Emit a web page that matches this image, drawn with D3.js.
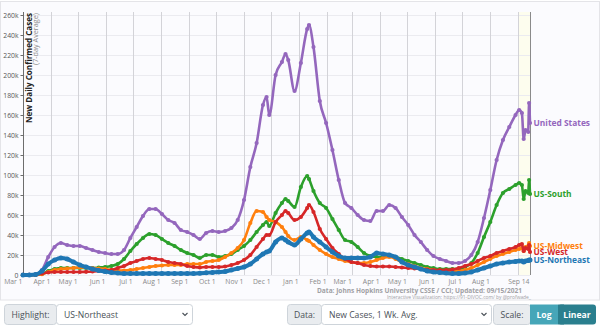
<!DOCTYPE html>
<html><head><meta charset="utf-8">
<script src="https://cdn.jsdelivr.net/npm/d3@7"></script>
<style>
html,body{margin:0;padding:0;background:#fff;}
svg{display:block;font-family:"Open Sans",sans-serif;}
</style></head><body>
<svg id="chart" width="600" height="327"></svg>
<script>
// ---- DATA (new daily cases, 7-day average, in thousands) ----
const dates = ["2020-03-01","2020-03-08","2020-03-15","2020-03-22","2020-03-29","2020-04-05","2020-04-12","2020-04-19","2020-04-26","2020-05-03",
"2020-05-10","2020-05-17","2020-05-24","2020-05-31","2020-06-07","2020-06-14","2020-06-21","2020-06-28","2020-07-05","2020-07-12",
"2020-07-19","2020-07-26","2020-08-02","2020-08-09","2020-08-16","2020-08-23","2020-08-30","2020-09-06","2020-09-13","2020-09-20",
"2020-09-27","2020-10-04","2020-10-11","2020-10-18","2020-10-25","2020-11-01","2020-11-08","2020-11-15","2020-11-22","2020-11-26",
"2020-11-29","2020-12-06","2020-12-13","2020-12-17","2020-12-20","2020-12-27","2021-01-03","2021-01-10","2021-01-12","2021-01-17",
"2021-01-24","2021-01-31","2021-02-07","2021-02-14","2021-02-21","2021-02-28","2021-03-07","2021-03-14","2021-03-21","2021-03-28",
"2021-04-04","2021-04-11","2021-04-18","2021-04-25","2021-05-02","2021-05-09","2021-05-16","2021-05-23","2021-05-30","2021-06-06",
"2021-06-13","2021-06-20","2021-06-27","2021-07-04","2021-07-11","2021-07-18","2021-07-25","2021-08-01","2021-08-08","2021-08-15",
"2021-08-22","2021-08-29","2021-09-02","2021-09-05","2021-09-07","2021-09-09","2021-09-12","2021-09-13","2021-09-14"];

const unitedStates = [0,0.1,0.6,5,18,28,32,30,29,29,
27,25,23,22,21,21,25,37,48,59,
66,66,61,55,52,45,43,40,36,42,
44,43,44,47,55,75,108,132,170,178,
160,200,213,221,215,184,212,246,250,228,
174,152,125,95,72,67,60,55,54,64,
64,70,67,58,50,40,33,25,19,16,
14,12,12,14,20,33,57,85,115,135,
148,160,165,162,136,145,143,172,152];

const usSouth = [0,0,0.2,1,4,6,7,7,7,7,
7,7,7.5,8,9,11,16,24,31,37,
41,40,36,32,29,25,22,20,17,20,
20,18,19,21,25,29,35,43,50,53,
49,62,72,76,74,68,88,99,96,84,
72,67,56,45,35,33,28,22,19,18,
18,19,18,16,14,12,10,8,7,6,
6,6,6,8,12,22,38,53,70,82,
86,90,92,90,76,84,82,95,81];

const usMidwest = [0,0,0.1,0.8,3,5,6,6.5,7,7.5,
7.5,7,6.5,6,5,4.5,4.5,5,6,7,
8,9,9.5,10,10,10,11,11,11,13,
14,15,18,22,27,35,52,64,63,58,
55,53,48,43,39,35,38,35,34,30,
25,21,18,16,14,13,12,12,13,15,
17,18,16,13,11,9,7,6,5,4,
3.5,3.5,4,5,7,10,13,16,19,21,
23,25,26,27,24,28,29,32,29];

const usWest = [0.2,0.1,0.4,1.5,2.5,3,3,3,3,3,
3.2,3.5,4,4.5,5,7,9,12,14,16,
17,16,15,13,12,11,9,8,7.5,8,
8,8,8.5,10,12,15,20,28,36,40,
40,53,60,64,62,55,58,67,70,63,
46,36,27,21,16,13,12,10,9,8.5,
8.5,8.5,8,7.5,7,6.5,6,5.5,5,5,
5,5.5,7,9,11,14,17,19,22,24,
26,28,30,31,24,27,26,30,23];

const usNortheast = [0,0.1,0.5,4,11,15,17,16,13,10,
8,6,4.5,3.5,2.5,2,1.5,1.5,1.5,1.5,
1.5,1.5,1.5,1.5,1.5,1.5,1.5,1.5,1.8,2.2,
2.6,3,3.5,5,6.5,8,11,16,21,23,
24,33,37,35,33,30,36,42,43,38,
33,28,23,19,17,17,17,17,18,22,
21,20,18,13,10,8,6,4,3,2.5,
2,1.5,1.5,2,3,5,7,9,11,12,
13,13.5,14,14,13,14,14.5,15,15];

const seriesNames = ["United States","US-South","US-Midwest","US-West","US-Northeast"];
const seriesColors = ["#9467bd","#2ca02c","#ff7f0e","#d62728","#1f77b4"];
const highlighted = "US-Northeast";

const yTickValues = [0,20,40,60,80,100,120,140,160,180,200,220,240,260];
const yTickLabels = ["0","20k","40k","60k","80k","100k","120k","140k","160k","180k","200k","220k","240k","260k"];

const xGridDates = ["2020-03-01","2020-04-01","2020-05-01","2020-06-01","2020-07-01","2020-08-01","2020-09-01","2020-10-01","2020-11-01","2020-12-01",
"2021-01-01","2021-02-01","2021-03-01","2021-04-01","2021-05-01","2021-06-01","2021-07-01","2021-08-01","2021-09-01","2021-09-14"];
const xTickLabels = ["Mar 1","Apr 1","May 1","Jun 1","Jul 1","Aug 1","Sep 1","Oct 1","Nov 1","Dec 1",
"Jan 1","Feb 1","Mar 1","Apr 1","May 1","Jun 1","Jul 1","Aug 1","","Sep 14"];

// ---- DRAWING ----
const parse = d3.utcParse("%Y-%m-%d");
const svg = d3.select("#chart");
const L = 23, R = 530, T = 12, B = 275;

const x = d3.scaleUtc().domain([parse("2020-03-01"), parse("2021-09-14")]).range([L, R]);
const y = d3.scaleLinear().domain([0, 263]).range([B, T]);

// backgrounds
svg.append("rect").attr("x",0).attr("y",0).attr("width",600).attr("height",327).attr("fill","#ffffff");
svg.append("rect").attr("x",0.5).attr("y",1.5).attr("width",599).attr("height",298.5)
  .attr("fill","#fbfbfe").attr("stroke","#e4e4e8");
svg.append("rect").attr("x",x(parse("2021-09-01"))).attr("y",T)
  .attr("width",x(parse("2021-09-14"))-x(parse("2021-09-01"))).attr("height",B-T).attr("fill","#fdfdee");

// horizontal grid
svg.append("g").selectAll("line").data(yTickValues).join("line")
  .attr("x1",L).attr("x2",R).attr("y1",d=>y(d)+0.5).attr("y2",d=>y(d)+0.5)
  .attr("stroke","#ebebf0").attr("stroke-width",1);
// vertical grid
svg.append("g").selectAll("line").data(xGridDates).join("line")
  .attr("x1",d=>Math.round(x(parse(d)))+0.5).attr("x2",d=>Math.round(x(parse(d)))+0.5)
  .attr("y1",T).attr("y2",B)
  .attr("stroke",(d,i)=> i===xGridDates.length-1 ? "#8a8a8a" : "#d3d3d8").attr("stroke-width",1);

// y axis
const yAxis = d3.axisLeft(y).tickValues(yTickValues).tickFormat((d,i)=>yTickLabels[i]).tickSize(3).tickPadding(2);
const gy = svg.append("g").attr("transform",`translate(${L+0.5},0)`).call(yAxis);
gy.select(".domain").attr("stroke","#6d6d6d").attr("d",`M0,${T}V${B}`);
gy.selectAll(".tick line").attr("stroke","#6d6d6d");
gy.selectAll(".tick text").attr("font-size",6.8).attr("fill","#555").attr("font-family","'Open Sans',sans-serif");

// x axis labels
const xAxis = d3.axisBottom(x).tickValues(xGridDates.map(parse)).tickFormat((d,i)=>xTickLabels[i]).tickSize(0).tickPadding(4);
const gx = svg.append("g").attr("transform",`translate(0,${B})`).call(xAxis);
gx.select(".domain").remove();
gx.selectAll(".tick text").attr("text-anchor","end").attr("dx",-1)
  .attr("font-size",6.8).attr("fill","#8a8a8a").attr("font-family","'Open Sans',sans-serif");

// axis titles
svg.append("text").attr("transform",`translate(32.3,13) rotate(-90)`).attr("text-anchor","end")
  .attr("font-size",8.6).attr("font-weight","bold").attr("fill","#222")
  .attr("textLength",110).attr("lengthAdjust","spacingAndGlyphs")
  .text("New Daily Confirmed Cases");
svg.append("text").attr("transform",`translate(37.5,13) rotate(-90)`).attr("text-anchor","end")
  .attr("font-size",6.6).attr("fill","#8a8a8a")
  .attr("textLength",52).attr("lengthAdjust","spacingAndGlyphs")
  .text("(7-day Average)");

// series
const seriesValues = [unitedStates, usSouth, usMidwest, usWest, usNortheast];
const parsedDates = dates.map(parse);
const series = seriesNames.map((name,i)=>({
  name, color: seriesColors[i],
  points: parsedDates.map((d,j)=>({date:d, value:seriesValues[i][j]}))
}));
const line = d3.line().x(d=>x(d.date)).y(d=>y(d.value)).curve(d3.curveMonotoneX);
const drawOrder = series.filter(s=>s.name!==highlighted).concat(series.filter(s=>s.name===highlighted));
drawOrder.forEach(s=>{
  const hl = s.name===highlighted;
  const g = svg.append("g");
  g.append("path").datum(s.points).attr("d",line).attr("fill","none")
    .attr("stroke",s.color).attr("stroke-width",hl?4:2.6).attr("stroke-linejoin","round").attr("stroke-linecap","round");
  g.selectAll("circle").data(s.points).join("circle")
    .attr("cx",d=>x(d.date)).attr("cy",d=>y(d.value)).attr("r",hl?2.5:2.1).attr("fill",s.color);
});

// right-side labels
const labels = series.map(s=>({name:s.name,color:s.color,y:y(s.points[s.points.length-1].value)}))
  .sort((a,b)=>a.y-b.y);
for(let i=1;i<labels.length;i++){ if(labels[i].y-labels[i-1].y<6.5) labels[i].y=labels[i-1].y+6.5; }
svg.append("g").selectAll("text").data(labels).join("text")
  .attr("x",533.5).attr("y",d=>d.y).attr("dy","0.35em")
  .attr("font-size",8.4).attr("font-weight","bold").attr("fill",d=>d.color)
  .text(d=>d.name);

// source
svg.append("text").attr("x",522).attr("y",292.5).attr("text-anchor","end")
  .attr("font-size",7).attr("font-weight","bold").attr("fill","#a0a0a4")
  .attr("textLength",205).attr("lengthAdjust","spacingAndGlyphs")
  .text("Data: Johns Hopkins University CSSE / CCI; Updated: 09/15/2021");
svg.append("text").attr("x",531).attr("y",299.2).attr("text-anchor","end")
  .attr("font-size",4.4).attr("fill","#a0a0a4")
  .attr("textLength",144).attr("lengthAdjust","spacingAndGlyphs")
  .text("Interactive Visualization: https://91-DIVOC.com/ by @profwade_");

// controls
function group(x0, labelW, selW, label, value){
  const g = svg.append("g");
  g.append("rect").attr("x",x0+0.5).attr("y",304.5).attr("width",labelW).attr("height",20).attr("rx",3)
    .attr("fill","#e9ecef").attr("stroke","#ced4da");
  g.append("text").attr("x",x0+labelW/2+0.5).attr("y",317.5).attr("text-anchor","middle")
    .attr("font-size",8.6).attr("fill","#495057").text(label);
  if(selW){
    g.append("rect").attr("x",x0+labelW+0.5).attr("y",304.5).attr("width",selW).attr("height",20).attr("rx",3)
      .attr("fill","#ffffff").attr("stroke","#ced4da");
    g.append("text").attr("x",x0+labelW+8).attr("y",317.5)
      .attr("font-size",8.6).attr("fill","#495057").text(value);
    const cx = x0+labelW+selW-7;
    g.append("path").attr("d",`M${cx-2.5},${313}L${cx},${315.5}L${cx+2.5},${313}`)
      .attr("fill","none").attr("stroke","#495057").attr("stroke-width",1.1);
  }
}
group(4, 52, 136, "Highlight:", "US-Northeast");
group(287, 34, 170, "Data:", "New Cases, 1 Wk. Avg.");
group(493, 37, 0, "Scale:", "");
svg.append("rect").attr("x",530).attr("y",304.5).attr("width",28).attr("height",20).attr("fill","#46a6b8");
svg.append("rect").attr("x",558).attr("y",304.5).attr("width",38).attr("height",20).attr("rx",3).attr("fill","#2a7f8e");
svg.append("rect").attr("x",558).attr("y",304.5).attr("width",6).attr("height",20).attr("fill","#2a7f8e");
svg.append("text").attr("x",544).attr("y",317.5).attr("text-anchor","middle").attr("font-size",8.6)
  .attr("font-weight","bold").attr("fill","#fff").text("Log");
svg.append("text").attr("x",577).attr("y",317.5).attr("text-anchor","middle").attr("font-size",8.6)
  .attr("font-weight","bold").attr("fill","#fff").text("Linear");
</script>
</body></html>
